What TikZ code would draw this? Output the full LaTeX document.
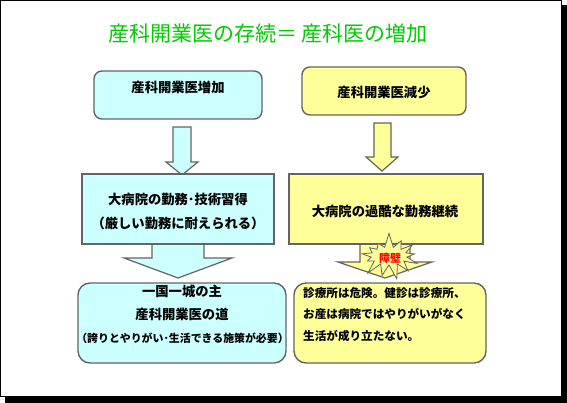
\documentclass[tikz,border=0pt]{standalone}
\usepackage{fontspec}
\newfontfamily\jpfont{Noto Sans CJK JP}
\usetikzlibrary{shapes.symbols}
\definecolor{lightcyan}{RGB}{204,255,255}
\definecolor{lightyellow}{RGB}{255,255,153}
\definecolor{edgegray}{RGB}{100,100,100}
\definecolor{titlegreen}{RGB}{0,204,0}
\begin{document}
\begin{tikzpicture}[x=1pt,y=-1pt,
    bluebox/.style={draw=edgegray,line width=1.4pt,fill=lightcyan},
    yellowbox/.style={draw=edgegray,line width=1.4pt,fill=lightyellow},
    bluearrow/.style={draw=edgegray,line width=1.2pt,fill=lightcyan,line join=miter},
    yellowarrow/.style={draw=edgegray,line width=1.2pt,fill=lightyellow,line join=miter},
    boxtext/.style={inner sep=0pt,font=\jpfont\bfseries\fontsize{13.3}{24}\selectfont}]
    % Frame with shadow
    \useasboundingbox (0,0) rectangle (567,403);
    \fill[black] (5,5) rectangle (567,403);
    \draw[fill=white,line width=1pt] (0.5,0.5) rectangle (561,396);

    % Title
    \node[inner sep=0pt,text=titlegreen,font=\jpfont\fontsize{21}{24}\selectfont] (title) at (268,34) {産科開業医の存続＝ 産科医の増加};

    % Arrows (drawn first, boxes cover their ends)
    \draw[bluearrow] (173,127) -- (191,127) -- (191,162) -- (198,162) -- (182,175) -- (166,162) -- (173,162) -- cycle;
    \draw[yellowarrow] (374,123) -- (391,123) -- (391,157) -- (398,157) -- (382,171) -- (366,157) -- (374,157) -- cycle;
    \draw[bluearrow] (152,240) -- (204,240) -- (204,258) -- (232,258) -- (178,278) -- (124,258) -- (152,258) -- cycle;
    \draw[yellowarrow] (360,240) -- (410,240) -- (410,262) -- (432,262) -- (385,278) -- (338,262) -- (360,262) -- cycle;

    % Left column
    \node[bluebox,rounded corners=8pt,minimum width=168pt,minimum height=48pt] (incBox) at (178,95) {};
    \node[boxtext] (incText) at (178,87) {産科開業医増加};
    \node[bluebox,minimum width=192pt,minimum height=70pt] (hospBox) at (178,209) {};
    \node[boxtext,align=center] (hospText) at (178,211) {大病院の勤務･技術習得\\（厳しい勤務に耐えられる）};
    \node[bluebox,rounded corners=12pt,minimum width=208pt,minimum height=80pt] (ownBox) at (182,323) {};
    \node[boxtext] (ownA) at (182,291) {一国一城の主};
    \node[boxtext] (ownB) at (182,314) {産科開業医の道};
    \node[boxtext,font=\jpfont\bfseries\fontsize{10.9}{20}\selectfont] (ownC) at (182.5,338) {（誇りとやりがい･生活できる施策が必要）};

    % Right column
    \node[yellowbox,rounded corners=8pt,minimum width=164pt,minimum height=48pt] (decBox) at (384,91) {};
    \node[boxtext] (decText) at (384,92) {産科開業医減少};
    \node[yellowbox,minimum width=194pt,minimum height=70pt] (overBox) at (386,209) {};
    \node[boxtext] (overText) at (385,211) {大病院の過酷な勤務継続};
    \node[yellowbox,rounded corners=12pt,minimum width=192pt,minimum height=80pt] (clinicBox) at (390,323) {};
    \node[boxtext,align=left,anchor=west,font=\jpfont\bfseries\fontsize{11.6}{21.5}\selectfont] (clinicText) at (303,314.5) {診療所は危険。健診は診療所、\\お産は病院ではやりがいがなく\\生活が成り立たない。};

    % Barrier
    \node[starburst,starburst points=13,starburst point height=15pt,random starburst=7,
        draw=edgegray,line width=0.8pt,fill=lightyellow,minimum width=66pt,minimum height=48pt,inner sep=0pt] (wall) at (389,256) {};
    \node[inner sep=0pt,text=red,font=\jpfont\bfseries\fontsize{11}{12}\selectfont] (wallText) at (390,258) {障壁};
\end{tikzpicture}
\end{document}
